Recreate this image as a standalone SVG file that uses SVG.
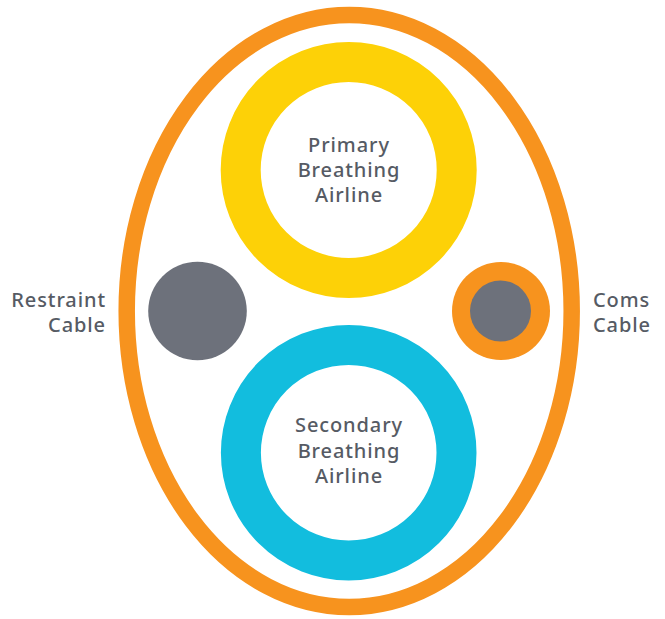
<svg xmlns="http://www.w3.org/2000/svg" width="665" height="619" viewBox="0 0 665 619">
<style>
.lbl{font-family:"Noto Sans","Liberation Sans",sans-serif;font-size:20px;font-weight:500;fill:#565b64;letter-spacing:0.9px}
.mid{text-anchor:middle}
</style>
<rect width="665" height="619" fill="#ffffff"/>
<g id="outer-sheath">
<ellipse cx="349.2" cy="311" rx="222.5" ry="296" fill="none" stroke="#f7931e" stroke-width="16.5"/>
</g>
<g id="primary-airline">
<circle cx="348.7" cy="170" r="108" fill="none" stroke="#fdd107" stroke-width="40"/>
<text class="lbl mid" x="349" y="152">Primary</text>
<text class="lbl mid" x="349" y="177">Breathing</text>
<text class="lbl mid" x="349" y="202">Airline</text>
</g>
<g id="secondary-airline">
<circle cx="348.7" cy="452.7" r="107.8" fill="none" stroke="#12bdde" stroke-width="40"/>
<text class="lbl mid" x="349" y="432">Secondary</text>
<text class="lbl mid" x="349" y="458">Breathing</text>
<text class="lbl mid" x="349" y="483">Airline</text>
</g>
<g id="restraint-cable">
<circle cx="197.5" cy="311" r="49.3" fill="#6d717b"/>
<text class="lbl" text-anchor="end" x="106" y="307">Restraint</text>
<text class="lbl" text-anchor="end" x="106" y="332">Cable</text>
</g>
<g id="coms-cable">
<circle cx="501" cy="311" r="49" fill="#f7931e"/>
<circle cx="500.5" cy="311" r="30.5" fill="#6d717b"/>
<text class="lbl" x="593" y="307">Coms</text>
<text class="lbl" x="593" y="332">Cable</text>
</g>
<g id="connectors"></g>
</svg>
